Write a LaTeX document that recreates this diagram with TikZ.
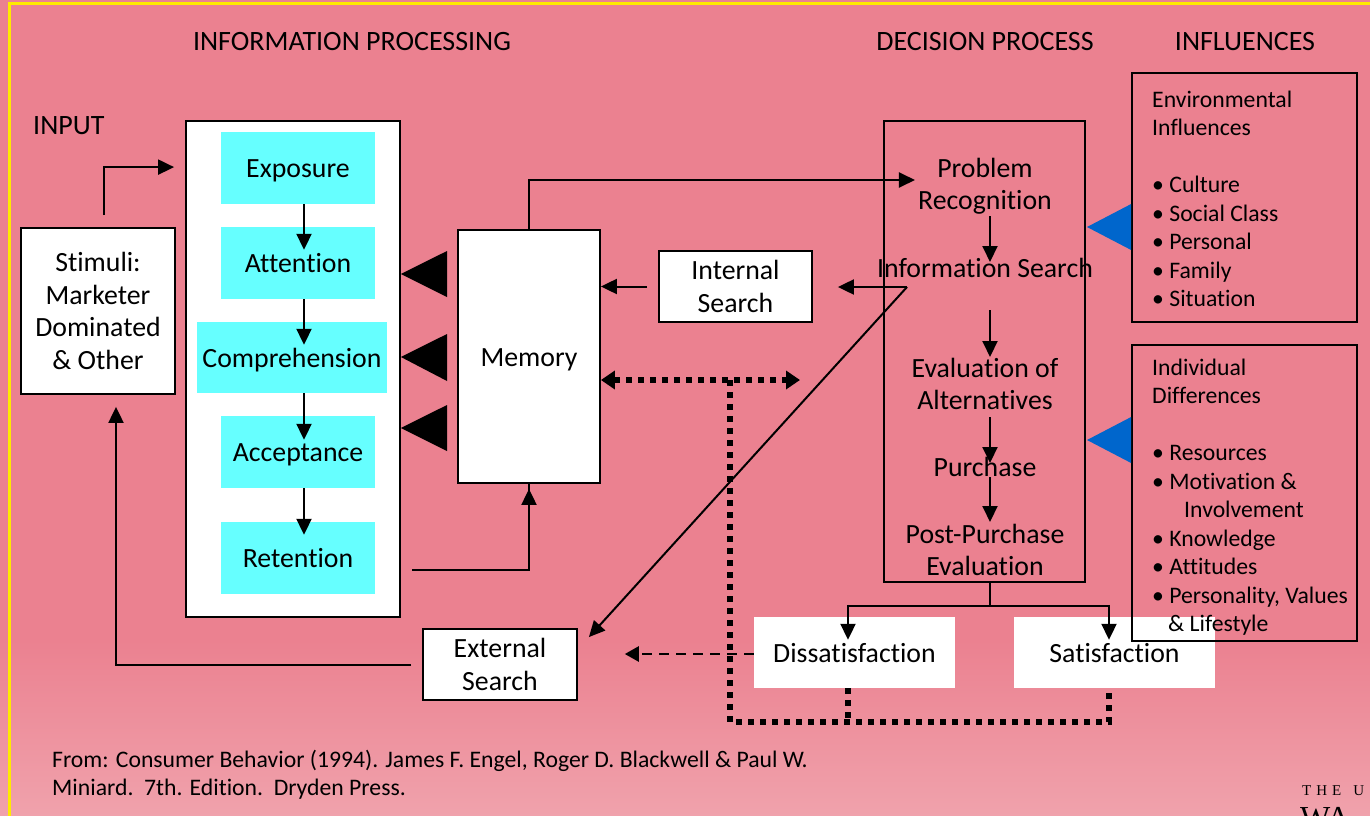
\documentclass[tikz,border=0pt]{standalone}
\usepackage{fontspec}
\setmainfont{Carlito}[Ligatures=NoCommon]
\newfontfamily\logofont{Liberation Serif}
\usetikzlibrary{arrows.meta,calc}
\definecolor{bgpink}{HTML}{EB8190}
\definecolor{bgpinklow}{HTML}{F0A2AC}
\definecolor{cyanbox}{HTML}{66FFFF}
\definecolor{infblue}{HTML}{0066CC}
\definecolor{bordery}{HTML}{FFEA00}
\begin{document}
\begin{tikzpicture}[x=1pt,y=-1pt,
  lbl/.style={font=\fontsize{27.8}{32.5}\selectfont, align=center, inner sep=0pt},
  oneline/.style={text height=19pt, text depth=0pt},
  wbox/.style={draw=black, line width=1.8pt, fill=white, inner sep=0pt, lbl},
  cbox/.style={fill=cyanbox, inner sep=0pt, lbl, oneline, minimum width=154pt, minimum height=72pt},
  head/.style={font=\fontsize{28}{32}\selectfont, inner sep=0pt},
  inf/.style={font=\fontsize{23.7}{28.5}\selectfont, align=left, inner sep=0pt, anchor=north west},
  arr/.style={line width=2pt, -{Triangle[width=15pt,length=16pt]}},
  ln/.style={line width=2pt},
  dotline/.style={line width=6pt, dash pattern=on 6pt off 6pt},
  dashline/.style={line width=2.5pt, dash pattern=on 10pt off 7pt},
]
\useasboundingbox (0,0) rectangle (1370,816);
% background
\fill[bgpink] (0,0) rectangle (1370,816);
\shade[top color=bgpink, bottom color=bgpinklow] (0,640) rectangle (1370,816);
\draw[bordery, line width=3pt] (9,820) -- (9,4) -- (1372,4);

% headings
\node[head] (hIP) at (352,42) {INFORMATION PROCESSING};
\node[head] (hDP) at (985,42) {DECISION PROCESS};
\node[head] (hINF) at (1245,42) {INFLUENCES};
\node[head, anchor=west] (hIN) at (33,126) {INPUT};

% information processing
\node[wbox, minimum width=154pt, minimum height=166pt] (Stim) at (98,311) {Stimuli:\\Marketer\\Dominated\\\& Other};
\node[draw=black, line width=1.8pt, fill=white, minimum width=214pt, minimum height=496pt, inner sep=0pt] (IP) at (293,369) {};
\node[cbox] (Exp) at (298,168) {Exposure};
\node[cbox] (Att) at (298,263) {Attention};
\node[cbox, minimum width=190pt, minimum height=71pt] (Com) at (292,357.5) {Comprehension};
\node[cbox] (Acc) at (298,452) {Acceptance};
\node[cbox] (Ret) at (298,558) {Retention};
\node[wbox, oneline, minimum width=142pt, minimum height=253pt] (Mem) at (529,356.5) {Memory};
\node[wbox, minimum width=153pt, minimum height=71pt] (Int) at (735.5,286.5) {Internal\\Search};
\node[wbox, minimum width=154pt, minimum height=71pt] (Ext) at (500,664.5) {External\\Search};

% decision process
\node[draw=black, line width=1.8pt, minimum width=201pt, minimum height=461pt, inner sep=0pt] (DP) at (984.5,351.5) {};
\node[lbl] (PR) at (985,186) {Problem\\Recognition};
\node[lbl, oneline] (IS) at (985,268) {Information Search};
\node[lbl] (EA) at (985,384) {Evaluation of\\Alternatives};
\node[lbl, oneline] (PU) at (985,467) {Purchase};
\node[lbl] (PP) at (985,550) {Post-Purchase\\Evaluation};
\node[fill=white, lbl, oneline, minimum width=201pt, minimum height=71pt] (Dis) at (854.5,652.5) {Dissatisfaction};
\node[fill=white, lbl, oneline, minimum width=201pt, minimum height=71pt] (Sat) at (1114.5,652.5) {Satisfaction};

% influences
\node[draw=black, line width=1.8pt, minimum width=225pt, minimum height=249pt, inner sep=0pt] (Env) at (1244.5,197.5) {};
\node[draw=black, line width=1.8pt, minimum width=225pt, minimum height=296pt, inner sep=0pt] (Ind) at (1244.5,493) {};
\node[inf] (EnvT) at (1152,90.5) {Environmental\\Influences\\[28.5pt]
  • Culture\\• Social Class\\• Personal\\• Family\\• Situation};
\node[inf] (IndT) at (1152,358.5) {Individual\\Differences\\[28.5pt]
  • Resources\\• Motivation \&\\\hspace*{32pt}Involvement\\• Knowledge\\• Attitudes\\• Personality, Values\\\hspace*{16pt}\& Lifestyle};
\fill[infblue] (1087,227) -- (Env.west |- 0,204) -- (Env.west |- 0,250) -- cycle;
\fill[infblue] (1087,440) -- (Ind.west |- 0,417) -- (Ind.west |- 0,463) -- cycle;

% memory triangles
\fill[black] (IP.east |- 0,274) -- (447,251) -- (447,297) -- cycle;
\fill[black] (IP.east |- 0,357) -- (447,334) -- (447,381) -- cycle;
\fill[black] (IP.east |- 0,428) -- (447,405) -- (447,451) -- cycle;

% connectors
\draw[arr] ($(Stim.north)+(6,-12)$) |- ($(IP.north west)+(-11,47)$);
\draw[arr] ($(Exp.south)+(6,0)$) -- ($(Att.north)+(6,23)$);
\draw[arr] ($(Att.south)+(6,0)$) -- ($(Com.north)+(12,23)$);
\draw[arr] ($(Com.south)+(12,0)$) -- ($(Acc.north)+(6,24)$);
\draw[arr] ($(Acc.south)+(6,0)$) -- ($(Ret.north)+(6,13)$);
\draw[ln] ($(Ret.east)+(37,12)$) -| ($(Mem.south)+(0,0)$);
\draw[arr] ($(Mem.south)+(0,87)$) -- ($(Mem.south)+(0,5)$);
\draw[arr] (Mem.north) |- ($(PR.west)+(-3,-6)$);
\draw[arr] ($(Int.west)+(-11,0)$) -- (Mem.east |- Int.west);
\coordinate (ISp) at (907,287);
\draw[arr] (ISp) -- ($(Int.east)+(25,0.5)$);
\draw[arr] (ISp) -- ($(Ext.north east)+(11,9)$);
\draw[arr] ($(Ext.west)+(-11,0)$) -| ($(Stim.south)+(18,12)$);
\draw[dashline, -{Triangle[width=15pt,length=14pt]}] ($(Dis.west)+(0,1.5)$) -- ($(Dis.west)+(-129,1.5)$);

\draw[arr] (990,216) -- (990,262);
\draw[arr] (990,310) -- (990,357);
\draw[arr] (990,417) -- (990,463);
\draw[arr] (990,477) -- (990,522);
\draw[ln] ($(DP.south)+(5.5,0)$) -- ($(DP.south)+(5.5,23)$);
\draw[ln] ($(DP.south)+(5.5,23)$) -| ($(Dis.north)+(-6.5,-12)$);
\draw[ln] ($(DP.south)+(5.5,23)$) -| ($(Sat.north)+(-5.5,-12)$);
\draw[arr] ($(Dis.north)+(-6.5,-12)$) -- ($(Dis.north)+(-6.5,23)$);
\draw[arr] ($(Sat.north)+(-5.5,-12)$) -- ($(Sat.north)+(-5.5,23)$);

% dotted feedback
\draw[dotline, {Triangle[width=18pt,length=14pt]}-{Triangle[width=18pt,length=14pt]}] (Mem.east |- 0,380) -- (800,380);
\draw[dotline] (730,380) |- (1109,722) -- (Sat.south -| 1109,0);
\draw[dotline] (Dis.south -| 848,0) -- (848,722);

% footer
\node[anchor=base west, font=\fontsize{23.7}{28}\selectfont, inner sep=0pt] (foot1) at (52,767) {From: Consumer Behavior (1994). James F. Engel, Roger D. Blackwell \& Paul W.};
\node[anchor=base west, font=\fontsize{23.7}{28}\selectfont, inner sep=0pt] (foot2) at (52,795) {Miniard.\ \ 7th. Edition.\ \ Dryden Press.};
\node[anchor=base west, inner sep=0pt, font=\logofont\fontsize{15}{15}\selectfont] (logo1) at (1302,795) {T\hspace{5pt}H\hspace{5pt}E\hspace{12pt}U};
\node[anchor=base west, inner sep=0pt, font=\logofont\fontsize{32}{32}\selectfont] (logo2) at (1300,828) {WA};
\end{tikzpicture}
\end{document}
